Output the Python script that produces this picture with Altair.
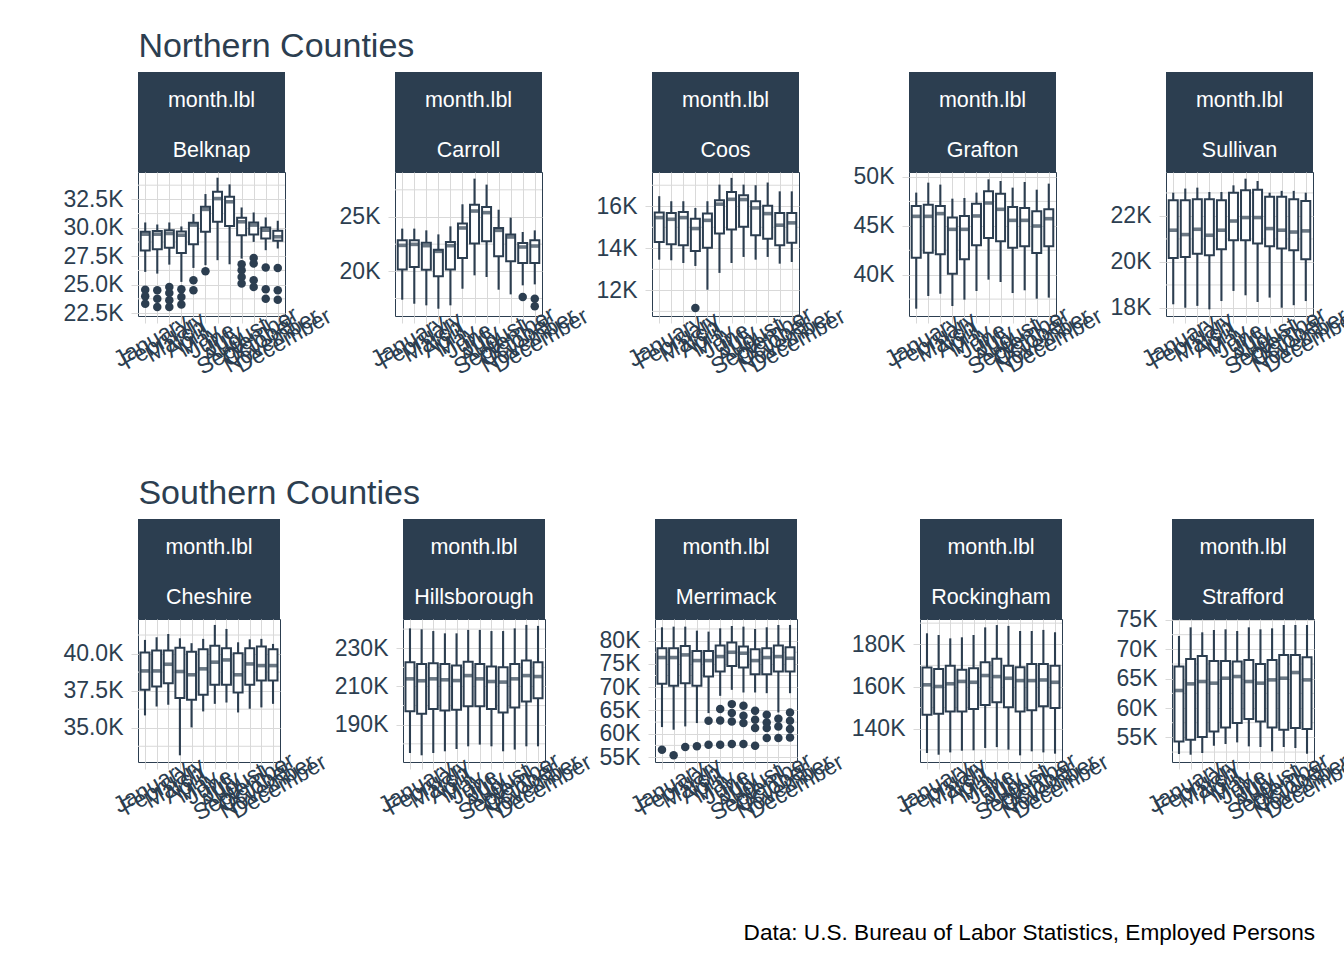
import altair as alt
import pandas as pd

MONTHS = ["January", "February", "March", "April", "May", "June", "July",
          "August", "September", "October", "November", "December"]

NAVY = "#2C3E50"
GRID = "#D9D9D9"
FONT = "Liberation Sans"
CAPTION = "Data: U.S. Bureau of Labor Statistics, Employed Persons"

# ---- box statistics (thousands of employed persons) ----
BELKNAP = dict(
    hi=[30.47, 30.29, 30.47, 30.12, 31.21, 32.97, 34.41, 33.82, 31.79, 31.35, 30.91, 30.62],
    q3=[29.65, 29.71, 29.79, 29.68, 30.44, 31.85, 33.18, 32.74, 30.88, 30.47, 30.03, 29.74],
    med=[29.44, 29.44, 29.50, 29.35, 30.24, 31.62, 32.57, 32.29, 30.53, 30.24, 29.79, 29.21],
    q1=[28.00, 28.12, 28.24, 27.79, 28.56, 29.65, 30.53, 30.15, 29.35, 29.41, 29.06, 28.85],
    lo=[26.12, 25.97, 26.76, 25.24, 26.47, 26.71, 27.15, 26.79, 27.29, 28.76, 28.03, 28.18],
    out=[("January", 24.56), ("January", 23.97), ("January", 23.32),
         ("February", 24.50), ("February", 23.76), ("February", 23.03),
         ("March", 24.79), ("March", 24.26), ("March", 23.62), ("March", 23.03),
         ("April", 24.59), ("April", 23.91), ("April", 23.26),
         ("May", 25.38), ("May", 24.50), ("June", 26.18),
         ("September", 26.79), ("September", 26.26), ("September", 25.68), ("September", 25.09),
         ("October", 27.35), ("October", 26.85), ("October", 25.38), ("October", 24.79),
         ("November", 26.50), ("November", 24.59), ("November", 23.76),
         ("December", 26.47), ("December", 24.50), ("December", 23.68)],
)
CARROLL = dict(
    hi=[23.93, 23.93, 23.77, 23.40, 24.14, 26.17, 28.53, 27.98, 25.67, 24.94, 23.62, 23.77],
    q3=[22.85, 22.85, 22.64, 21.99, 22.70, 24.39, 26.13, 25.92, 23.99, 23.40, 22.61, 22.85],
    med=[22.39, 22.48, 22.36, 21.84, 22.36, 23.99, 25.55, 25.40, 23.77, 23.16, 22.24, 22.33],
    q1=[20.18, 20.40, 20.15, 19.54, 20.18, 21.23, 22.55, 22.76, 21.38, 20.92, 20.77, 20.77],
    lo=[17.39, 17.02, 16.87, 16.56, 16.87, 18.40, 19.63, 19.48, 18.31, 17.88, 18.71, 18.80],
    out=[("November", 17.64), ("December", 17.48), ("December", 16.78)],
)
COOS = dict(
    hi=[16.48, 16.24, 16.24, 15.92, 16.24, 17.03, 17.35, 17.03, 17.00, 17.13, 16.71, 16.71],
    q3=[15.70, 15.68, 15.73, 15.41, 15.65, 16.29, 16.68, 16.52, 16.24, 16.02, 15.68, 15.68],
    med=[15.46, 15.38, 15.46, 14.94, 15.33, 16.10, 16.33, 16.32, 15.92, 15.65, 15.10, 15.21],
    q1=[14.30, 14.19, 14.14, 13.87, 14.03, 14.70, 14.90, 15.02, 14.62, 14.46, 14.14, 14.27],
    lo=[13.46, 13.43, 13.30, 13.16, 12.03, 12.83, 13.30, 13.59, 13.46, 13.59, 13.27, 13.35],
    out=[("April", 11.16)],
)
GRAFTON = dict(
    hi=[48.40, 49.42, 49.22, 47.78, 47.85, 48.40, 49.76, 49.59, 48.91, 49.49, 48.70, 49.32],
    q3=[47.03, 47.17, 47.03, 45.84, 46.01, 47.27, 48.53, 48.29, 46.93, 46.83, 46.48, 46.69],
    med=[45.97, 45.97, 46.25, 44.64, 44.64, 46.01, 47.34, 46.69, 45.56, 45.56, 44.98, 45.73],
    q1=[41.74, 42.25, 42.08, 40.10, 41.57, 43.00, 43.75, 43.41, 42.76, 42.90, 42.22, 42.90],
    lo=[36.52, 37.82, 38.05, 36.79, 37.44, 38.33, 39.49, 39.25, 38.12, 38.40, 37.54, 37.65],
    out=[],
)
SULLIVAN = dict(
    hi=[23.01, 23.19, 23.23, 23.04, 23.04, 23.33, 23.62, 23.52, 23.01, 23.09, 23.09, 23.01],
    q3=[22.68, 22.68, 22.72, 22.72, 22.68, 23.01, 23.12, 23.14, 22.83, 22.83, 22.72, 22.65],
    med=[21.38, 21.19, 21.42, 21.16, 21.38, 21.78, 21.93, 21.93, 21.45, 21.38, 21.30, 21.35],
    q1=[20.17, 20.22, 20.36, 20.29, 20.55, 20.94, 20.94, 20.80, 20.68, 20.58, 20.51, 20.12],
    lo=[18.16, 18.01, 18.09, 17.94, 18.30, 18.74, 18.55, 18.26, 18.45, 18.01, 18.12, 18.30],
    out=[],
)
CHESHIRE = dict(
    hi=[40.92, 41.10, 41.32, 41.03, 40.70, 40.99, 41.93, 41.66, 40.76, 40.96, 40.99, 40.65],
    q3=[40.07, 40.20, 40.20, 40.40, 40.13, 40.29, 40.52, 40.36, 40.02, 40.36, 40.47, 40.29],
    med=[38.83, 38.83, 39.28, 38.79, 38.57, 38.97, 39.42, 39.57, 38.57, 39.30, 39.19, 39.19],
    q1=[37.56, 37.78, 38.00, 37.00, 36.88, 37.22, 37.89, 37.89, 37.38, 37.89, 38.18, 38.18],
    lo=[35.83, 36.43, 36.55, 33.14, 35.02, 36.10, 36.61, 36.70, 36.03, 36.28, 36.37, 36.61],
    out=[],
)
HILLSBOROUGH = dict(
    hi=[240.4, 239.9, 239.0, 237.8, 237.8, 239.6, 239.6, 239.0, 239.0, 240.4, 242.2, 241.7],
    q3=[222.7, 221.7, 222.2, 221.7, 221.0, 223.0, 221.7, 220.4, 220.1, 221.7, 223.6, 222.7],
    med=[214.0, 213.0, 214.0, 213.5, 213.1, 215.7, 214.0, 212.6, 212.3, 214.0, 215.7, 215.2],
    q1=[197.0, 195.7, 198.2, 197.5, 197.8, 199.6, 199.6, 198.2, 196.4, 199.0, 202.2, 203.9],
    lo=[175.2, 174.0, 175.2, 176.1, 177.3, 178.7, 179.6, 178.7, 176.1, 177.0, 178.7, 178.7],
    out=[],
)
MERRIMACK = dict(
    hi=[82.86, 83.00, 83.00, 82.14, 81.93, 82.64, 83.14, 83.00, 82.50, 82.86, 83.36, 83.36],
    q3=[78.36, 78.36, 78.86, 77.79, 77.79, 78.93, 79.57, 78.71, 78.14, 78.36, 78.93, 78.57],
    med=[76.36, 76.36, 76.93, 75.71, 75.71, 76.57, 77.50, 77.29, 75.71, 76.36, 76.57, 76.21],
    q1=[70.71, 70.29, 70.86, 70.29, 72.29, 73.36, 74.57, 74.21, 72.79, 72.79, 73.36, 73.36],
    lo=[61.43, 60.86, 61.57, 62.29, 64.43, 68.14, 69.43, 68.86, 68.86, 68.71, 64.57, 68.71],
    out=[("January", 56.57), ("February", 55.36), ("March", 57.14), ("April", 57.29),
         ("May", 62.79), ("May", 57.64),
         ("June", 65.29), ("June", 62.86), ("June", 57.64),
         ("July", 66.36), ("July", 64.43), ("July", 62.64), ("July", 57.79),
         ("August", 66.00), ("August", 63.86), ("August", 62.29), ("August", 57.79),
         ("September", 64.93), ("September", 63.00), ("September", 61.21), ("September", 57.43),
         ("October", 64.07), ("October", 62.43), ("October", 61.21), ("October", 59.07),
         ("November", 63.21), ("November", 61.57), ("November", 59.07),
         ("December", 64.57), ("December", 62.79), ("December", 61.00), ("December", 59.21)],
)
ROCKINGHAM = dict(
    hi=[185.2, 184.4, 182.8, 183.3, 184.4, 188.0, 189.1, 188.7, 186.3, 186.3, 186.8, 185.7],
    q3=[169.0, 168.3, 169.8, 167.9, 168.7, 171.5, 173.1, 169.8, 169.1, 170.7, 170.7, 169.8],
    med=[160.8, 160.0, 161.3, 162.4, 162.0, 165.2, 164.7, 163.9, 162.8, 162.8, 163.1, 162.0],
    q1=[146.6, 147.1, 148.2, 148.2, 149.4, 151.3, 152.6, 150.2, 148.2, 148.7, 150.6, 149.8],
    lo=[128.5, 127.7, 128.8, 129.6, 129.8, 130.9, 131.3, 130.1, 127.4, 129.3, 128.8, 128.2],
    out=[],
)
STRAFFORD = dict(
    hi=[72.28, 73.75, 72.90, 73.30, 73.41, 73.13, 73.75, 73.41, 73.58, 74.15, 74.15, 74.15],
    q3=[67.07, 68.37, 68.88, 68.03, 68.03, 67.92, 68.20, 67.52, 68.20, 69.05, 69.05, 68.65],
    med=[62.99, 64.12, 64.52, 64.24, 65.08, 65.37, 64.52, 64.24, 64.80, 65.08, 66.05, 64.80],
    q1=[54.32, 54.60, 55.06, 56.02, 56.70, 57.44, 58.12, 57.72, 56.70, 56.30, 56.59, 56.42],
    lo=[52.17, 52.05, 52.34, 53.58, 53.87, 54.15, 53.47, 53.36, 52.62, 53.36, 53.19, 52.22],
    out=[],
)

NORTH = ["Belknap", "Carroll", "Coos", "Grafton", "Sullivan"]
SOUTH = ["Cheshire", "Hillsborough", "Merrimack", "Rockingham", "Strafford"]
STATS = {"Belknap": BELKNAP, "Carroll": CARROLL, "Coos": COOS, "Grafton": GRAFTON,
         "Sullivan": SULLIVAN, "Cheshire": CHESHIRE, "Hillsborough": HILLSBOROUGH,
         "Merrimack": MERRIMACK, "Rockingham": ROCKINGHAM, "Strafford": STRAFFORD}

# ---- axis settings per panel: (domain, major ticks, minor grid, label format) ----
AXES = {
    "Belknap": ([22.24, 34.91], [22.5, 25, 27.5, 30, 32.5], [23.75, 26.25, 28.75, 31.25, 33.75], ".1f"),
    "Carroll": ([15.89, 29.14], [20, 25], [17.5, 22.5, 27.5], "d"),
    "Coos": ([10.78, 17.63], [12, 14, 16], [11, 13, 15, 17], "d"),
    "Grafton": ([35.77, 50.51], [40, 45, 50], [37.5, 42.5, 47.5], "d"),
    "Sullivan": ([17.65, 23.91], [18, 20, 22], [19, 21, 23], "d"),
    "Cheshire": ([32.69, 42.33], [35, 37.5, 40], [33.75, 36.25, 38.75, 41.25], ".1f"),
    "Hillsborough": ([170.5, 245.3], [190, 210, 230], [180, 200, 220, 240], "d"),
    "Merrimack": ([53.93, 84.64], [55, 60, 65, 70, 75, 80], [57.5, 62.5, 67.5, 72.5, 77.5, 82.5], "d"),
    "Rockingham": ([124.25, 191.97], [140, 160, 180], [130, 150, 170, 190], "d"),
    "Strafford": ([50.81, 75.17], [55, 60, 65, 70, 75], [52.5, 57.5, 62.5, 67.5, 72.5], "d"),
}


def panel(name, width, height):
    st = STATS[name]
    domain, majors, minors, fmt = AXES[name]
    df = pd.DataFrame({"month": MONTHS, "lo": st["lo"], "q1": st["q1"],
                       "med": st["med"], "q3": st["q3"], "hi": st["hi"]})
    out_df = pd.DataFrame(st["out"], columns=["month", "value"])
    if out_df.empty:
        out_df = pd.DataFrame({"month": ["January"], "value": [None]})
    ys = alt.Scale(domain=domain, nice=False, zero=False)
    xs = alt.Scale(type="point", padding=0.6, domain=MONTHS)
    xaxis = alt.Axis(title=None, labelAngle=-30, labelAlign="center", labelBaseline="top",
                     labelOverlap=False, labelPadding=8, grid=True)
    yaxis = alt.Axis(title=None, values=majors, format=fmt, labelExpr="datum.label + 'K'",
                     grid=True, labelPadding=8)
    X = alt.X("month:N", scale=xs, axis=xaxis)

    minor = alt.Chart(pd.DataFrame({"v": minors})).mark_rule(
        color=GRID, strokeWidth=1).encode(y=alt.Y("v:Q", scale=ys, axis=yaxis))
    whisk = alt.Chart(df).mark_rule(color=NAVY, strokeWidth=2.1).encode(
        x=X, y=alt.Y("lo:Q", scale=ys, axis=yaxis), y2="hi:Q")
    box = alt.Chart(df).mark_bar(width=9, fill="white", stroke=NAVY, strokeWidth=2.0).encode(
        x=X, y=alt.Y("q1:Q", scale=ys, axis=yaxis), y2="q3:Q")
    med = alt.Chart(df).mark_tick(color=NAVY, size=9, thickness=3.6, orient="horizontal").encode(
        x=X, y=alt.Y("med:Q", scale=ys, axis=yaxis))
    outl = alt.Chart(out_df).mark_circle(size=72, color=NAVY, opacity=1).encode(
        x=X, y=alt.Y("value:Q", scale=ys, axis=yaxis))

    sdf = pd.DataFrame({"county": [name], "lbl": ["month.lbl"]})
    strip = alt.Chart(sdf).mark_rect(color=NAVY).encode(
        x=alt.value(0), x2=alt.value(width), y=alt.value(-100), y2=alt.value(0))
    t1 = alt.Chart(sdf).mark_text(color="white", font=FONT, fontSize=21.5, baseline="alphabetic",
                                  align="center").encode(
        x=alt.value(width / 2), y=alt.value(-65), text="lbl:N")
    t2 = alt.Chart(sdf).mark_text(color="white", font=FONT, fontSize=21.5, baseline="alphabetic",
                                  align="center").encode(
        x=alt.value(width / 2), y=alt.value(-15), text="county:N")

    return alt.layer(minor, whisk, box, med, outl, strip, t1, t2).properties(
        width=width, height=height)


north = alt.hconcat(*[panel(n, 147, 144) for n in NORTH], spacing=2,
                    title=alt.TitleParams("Northern Counties", anchor="start", dx=76, offset=8))
south = alt.hconcat(*[panel(n, 142, 143) for n in SOUTH], spacing=2,
                    title=alt.TitleParams("Southern Counties", anchor="start", dx=76, offset=8))

cap = alt.Chart(pd.DataFrame({"t": [CAPTION]})).mark_text(
    align="right", baseline="alphabetic", font=FONT, fontSize=22.6, color="black").encode(
    x=alt.value(1177), y=alt.value(18), text="t:N").properties(
    width=1177, height=22, view=alt.ViewBackground(strokeOpacity=0))

chart = alt.vconcat(north, south, cap, spacing=96).properties(
    padding={"left": 62, "top": 29, "right": -21, "bottom": 0}
).configure_view(
    stroke=NAVY, strokeWidth=1
).configure_axis(
    gridColor=GRID, gridWidth=1, tickColor=GRID, tickSize=7, domain=False,
    labelFont=FONT, labelFontSize=23, labelColor=NAVY
).configure_title(
    font=FONT, fontSize=34, color=NAVY, fontWeight="normal", anchor="start"
)

chart.save("out.html", embed_options={"renderer": "svg", "actions": False})
